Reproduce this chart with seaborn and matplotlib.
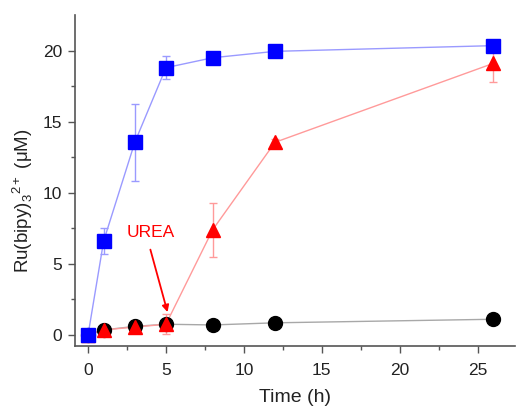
import matplotlib
matplotlib.use("Agg")
import matplotlib.pyplot as plt
import seaborn as sns
import pandas as pd

time_blue = [0, 1, 3, 5, 8, 12, 26]
ru_blue = [0.0, 6.6, 13.55, 18.8, 19.5, 19.95, 20.35]
err_blue = [0.2, 0.9, 2.7, 0.8, 0.2, 0.2, 0.35]

time_red = [0, 1, 3, 5, 8, 12, 26]
ru_red = [0.0, 0.35, 0.55, 0.75, 7.4, 13.55, 19.1]
err_red = [0.2, 0.4, 0.3, 0.7, 1.9, 0.2, 1.3]

time_black = [0, 1, 3, 5, 8, 12, 26]
ru_black = [0.0, 0.35, 0.6, 0.75, 0.7, 0.85, 1.1]
err_black = [0.05, 0.1, 0.1, 0.1, 0.1, 0.1, 0.1]

sns.set_style("ticks")
plt.rcParams['font.family'] = ['Liberation Sans', 'DejaVu Sans']
plt.rcParams['mathtext.fontset'] = 'custom'
plt.rcParams['mathtext.rm'] = 'Liberation Sans'

fig = plt.figure(figsize=(5.16, 4.08), dpi=100)
ax = fig.add_axes([0.145, 0.152, 0.853, 0.811])

series = [
    (time_black, ru_black, err_black, 'black', '#a8a8a8', 'o'),
    (time_red, ru_red, err_red, 'red', '#ff9a9a', '^'),
    (time_blue, ru_blue, err_blue, 'blue', '#9a9aff', 's'),
]
for t, y, e, c, lc, m in series:
    df = pd.DataFrame({'t': t, 'y': y})
    ax.errorbar(t, y, yerr=e, fmt='none', ecolor=lc, elinewidth=1, capsize=3, capthick=1)
    sns.lineplot(data=df, x='t', y='y', ax=ax, color=lc, linewidth=1, zorder=2)
    ax.plot(t, y, linestyle='none', marker=m, markersize=10, color=c, zorder=3)

ax.text(4.0, 7.2, 'UREA', color='red', fontsize=12.5, ha='center', va='center')
ax.annotate('', xy=(5.1, 1.6), xytext=(4.0, 6.0),
            arrowprops=dict(arrowstyle='-|>', color='red', lw=1.3,
                            shrinkA=0, shrinkB=0, mutation_scale=10))

ax.set_xlim(-0.85, 27.4)
ax.set_ylim(-0.78, 22.5)
ax.set_xticks([0, 5, 10, 15, 20, 25])
ax.set_yticks([0, 5, 10, 15, 20])
ax.set_xticks([2.5, 7.5, 12.5, 17.5, 22.5], minor=True)
ax.set_yticks([2.5, 7.5, 12.5, 17.5], minor=True)
ax.tick_params(axis='both', which='major', labelsize=12.5, length=5, width=1,
               color='#555555', labelcolor='#222222')
ax.tick_params(axis='x', which='major', pad=7)
ax.tick_params(axis='y', which='major', pad=4)
ax.tick_params(axis='both', which='minor', length=3, width=1, color='#555555')
for s in ['left', 'bottom']:
    ax.spines[s].set_color('#555555')
    ax.spines[s].set_linewidth(1.2)
sns.despine(ax=ax)

ax.set_xlabel('Time (h)', fontsize=14, color='#222222', labelpad=8)
ax.set_ylabel('Ru(bipy)$_3$$^{2+}$ (μM)', fontsize=13.5, color='#222222')
ax.yaxis.set_label_coords(-0.09, 0.44)

fig.savefig('out.png', dpi=100)
